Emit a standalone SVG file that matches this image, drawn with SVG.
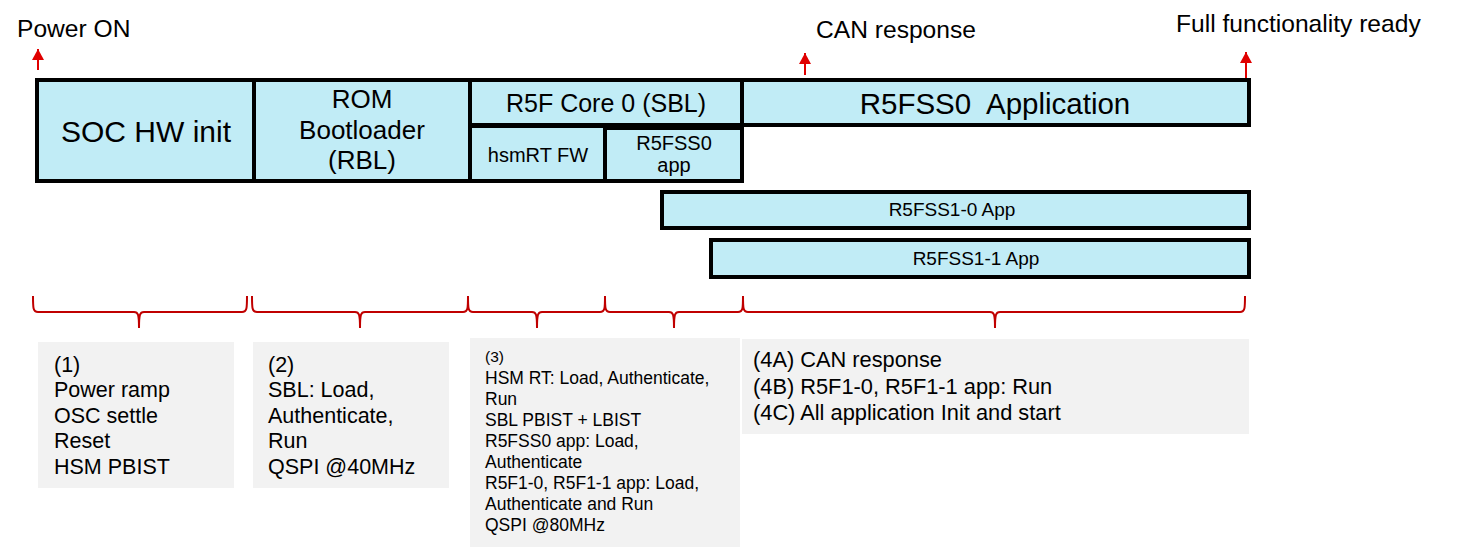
<svg xmlns="http://www.w3.org/2000/svg" width="1464" height="547" viewBox="0 0 1464 547">
<style>
  text { font-family: "Liberation Sans", Arial, sans-serif; fill: #000; white-space: pre; }
  .blk { fill: #c1ecf6; stroke: #000; stroke-width: 4; }
  .note { fill: #f2f2f2; stroke: none; }
  .brace { fill: none; stroke: #c00000; stroke-width: 2; }
  .arr { stroke: #e00000; stroke-width: 2; fill: none; }
  .c { text-anchor: middle; }
</style>
<defs>
  <marker id="ah" markerUnits="userSpaceOnUse" markerWidth="12" markerHeight="12" refX="11" refY="6" orient="auto">
    <path d="M0,0 L11,6 L0,12 z" fill="#e00000"/>
  </marker>
</defs>
<rect width="1464" height="547" fill="#fff"/>

<g id="labels">
  <text x="17" y="37" font-size="24.6">Power ON</text>
  <text x="816" y="38" font-size="24.6">CAN response</text>
  <text x="1176" y="32" font-size="24.6">Full functionality ready</text>
</g>

<g id="connectors">
  <line class="arr" x1="38" y1="70" x2="38" y2="49" marker-end="url(#ah)"/>
  <line class="arr" x1="805" y1="75" x2="805" y2="53" marker-end="url(#ah)"/>
  <line class="arr" x1="1246" y1="78" x2="1246" y2="52" marker-end="url(#ah)"/>
</g>

<g id="soc">
  <rect class="blk" x="37" y="80" width="217" height="101"/>
  <text class="c" x="146" y="142" font-size="30">SOC HW init</text>
</g>
<g id="rom">
  <rect class="blk" x="254" y="80" width="216" height="101"/>
  <text class="c" x="362" y="108" font-size="26">ROM</text>
  <text class="c" x="362" y="139" font-size="26">Bootloader</text>
  <text class="c" x="362" y="169" font-size="26">(RBL)</text>
</g>
<g id="r5fcore0">
  <rect class="blk" x="470" y="80" width="272" height="45"/>
  <text class="c" x="606" y="112" font-size="25">R5F Core 0 (SBL)</text>
</g>
<g id="hsmrt">
  <rect class="blk" x="470" y="126" width="135" height="55"/>
  <text class="c" x="538" y="162" font-size="20">hsmRT FW</text>
</g>
<g id="r5fss0app">
  <rect class="blk" x="605" y="128" width="137" height="53"/>
  <text class="c" x="674" y="150" font-size="20">R5FSS0</text>
  <text class="c" x="674" y="172" font-size="20">app</text>
</g>
<g id="r5fss0application">
  <rect class="blk" x="742" y="80" width="507" height="45"/>
  <text class="c" x="995" y="114" font-size="29.5">R5FSS0  Application</text>
</g>
<g id="r5fss1-0">
  <rect class="blk" x="662" y="192" width="587" height="36"/>
  <text class="c" x="952" y="216" font-size="19">R5FSS1-0 App</text>
</g>
<g id="r5fss1-1">
  <rect class="blk" x="711" y="240" width="538" height="37"/>
  <text class="c" x="976" y="265" font-size="19">R5FSS1-1 App</text>
</g>

<g id="braces">
  <path class="brace" d="M33,296 C33,308 33,312 38,312 L134,312 C138,312 139,314 139,328 C139,314 140,312 144,312 L242,312 C247,312 247,308 247,296"/>
  <path class="brace" d="M252,296 C252,308 252,312 257,312 L355,312 C359,312 360,314 360,328 C360,314 361,312 365,312 L463,312 C468,312 468,308 468,296"/>
  <path class="brace" d="M468,296 C468,308 468,312 473,312 L532,312 C536,312 537,314 537,328 C537,314 538,312 542,312 L600,312 C605,312 605,308 605,296"/>
  <path class="brace" d="M605,296 C605,308 605,312 610,312 L669,312 C673,312 674,314 674,328 C674,314 675,312 679,312 L738,312 C743,312 743,308 743,296"/>
  <path class="brace" d="M743,296 C743,308 743,312 748,312 L990,312 C994,312 995,314 995,328 C995,314 996,312 1000,312 L1240,312 C1245,312 1245,308 1245,296"/>
</g>

<g id="note1">
  <rect class="note" x="38" y="342" width="196" height="146"/>
  <text x="54" font-size="21.5"><tspan x="54" y="372">(1)</tspan><tspan x="54" y="397">Power ramp</tspan><tspan x="54" y="423">OSC settle</tspan><tspan x="54" y="448">Reset</tspan><tspan x="54" y="474">HSM PBIST</tspan></text>
</g>
<g id="note2">
  <rect class="note" x="253" y="342" width="196" height="146"/>
  <text x="268" font-size="21.5"><tspan x="268" y="372">(2)</tspan><tspan x="268" y="397">SBL: Load,</tspan><tspan x="268" y="423">Authenticate,</tspan><tspan x="268" y="448">Run</tspan><tspan x="268" y="474">QSPI @40MHz</tspan></text>
</g>
<g id="note3">
  <rect class="note" x="470" y="338" width="270" height="209"/>
  <text x="485" font-size="15.5" y="362">(3)</text>
  <text x="485" font-size="17.5"><tspan x="485" y="384">HSM RT: Load, Authenticate,</tspan><tspan x="485" y="405">Run</tspan><tspan x="485" y="426">SBL PBIST + LBIST</tspan><tspan x="485" y="447">R5FSS0 app: Load,</tspan><tspan x="485" y="468">Authenticate</tspan><tspan x="485" y="489">R5F1-0, R5F1-1 app: Load,</tspan><tspan x="485" y="510">Authenticate and Run</tspan><tspan x="485" y="531">QSPI @80MHz</tspan></text>
</g>
<g id="note4">
  <rect class="note" x="742" y="339" width="507" height="95"/>
  <text x="753" font-size="21.8"><tspan x="753" y="367">(4A) CAN response</tspan><tspan x="753" y="394">(4B) R5F1-0, R5F1-1 app: Run</tspan><tspan x="753" y="420">(4C) All application Init and start</tspan></text>
</g>
</svg>
